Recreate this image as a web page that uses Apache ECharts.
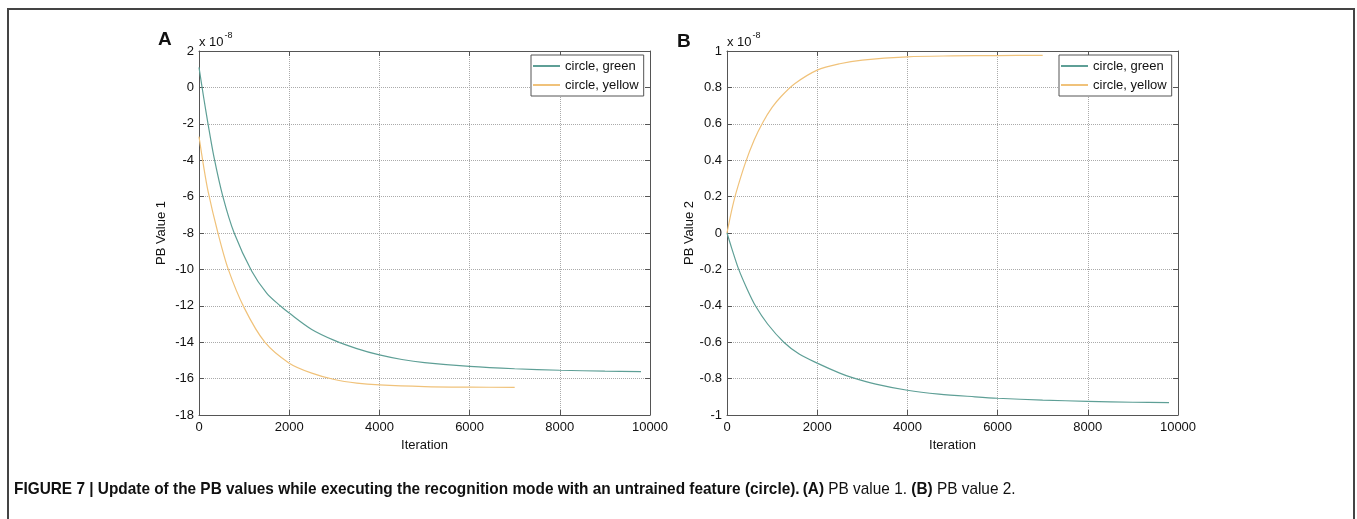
<!DOCTYPE html>
<html>
<head>
<meta charset="utf-8">
<script src="https://cdn.jsdelivr.net/npm/echarts@6/dist/echarts.min.js"></script>
<style>html,body{margin:0;padding:0;background:#fff}#c{width:1357px;height:519px}</style>
</head>
<body>
<div id="c"></div>
<script>
// ---- data (values in units of 1e-8) ----
const seriesNames = ['circle, green', 'circle, yellow'];
const xTicks = [0, 2000, 4000, 6000, 8000, 10000];

const iterA_green = [0,100,200,330,530,780,1170,1500,1800,2000,2500,3000,3500,4000,4500,5000,6000,7000,8000,9000,9800];
const valA_green  = [1.1,-0.5,-2.0,-3.8,-6.0,-8.0,-10.1,-11.3,-12.0,-12.4,-13.3,-13.9,-14.35,-14.7,-14.95,-15.12,-15.33,-15.46,-15.54,-15.59,-15.62];

const iterA_yellow = [0,100,200,420,650,1000,1460,2000,2500,3000,3500,4000,5000,6000,7000];
const valA_yellow  = [-2.7,-4.3,-5.7,-8.0,-10.0,-12.1,-14.0,-15.15,-15.7,-16.05,-16.25,-16.35,-16.44,-16.47,-16.48];

const iterB_green = [0,100,260,450,630,900,1260,1600,2000,2500,2780,3300,4000,4700,5500,6000,7000,8000,9000,9800];
const valB_green  = [0,-0.08,-0.2,-0.31,-0.4,-0.5,-0.6,-0.665,-0.715,-0.77,-0.795,-0.83,-0.864,-0.885,-0.9,-0.908,-0.918,-0.925,-0.93,-0.932];

const iterB_yellow = [0,100,200,400,600,800,1000,1200,1500,2000,2500,3000,4000,5000,6000,7000];
const valB_yellow  = [0,0.12,0.22,0.38,0.51,0.61,0.69,0.75,0.82,0.895,0.93,0.95,0.968,0.973,0.975,0.976];

const pairs = (xs, ys) => xs.map((x, i) => [x, ys[i]]);

const GREEN = '#5e9f96';
const YELLOW = '#f0c27a';
const FONT = 'Liberation Sans, Arial, Helvetica, sans-serif';
const AX = '#555';
const FS = 13;

function xAxisBottom(grid) {
  return {
    type: 'value', gridIndex: grid, position: 'bottom', min: xTicks[0], max: xTicks[xTicks.length - 1], interval: xTicks[1] - xTicks[0],
    name: 'Iteration', nameLocation: 'middle', nameGap: 23,
    nameTextStyle: { fontFamily: FONT, fontSize: FS, color: '#111' },
    axisLine: { show: true, onZero: false, lineStyle: { color: AX, width: 1 } },
    axisTick: { show: true, inside: true, length: 5, lineStyle: { color: AX } },
    axisLabel: { fontFamily: FONT, fontSize: FS, color: '#111', margin: 6, formatter: v => String(v) },
    splitLine: { show: true, lineStyle: { color: '#aaa', type: 'dotted', width: 1 } }
  };
}
function xAxisTop(grid) {
  return {
    type: 'value', gridIndex: grid, position: 'top', min: xTicks[0], max: xTicks[xTicks.length - 1], interval: xTicks[1] - xTicks[0],
    axisLine: { show: true, onZero: false, lineStyle: { color: AX, width: 1 } },
    axisTick: { show: true, inside: true, length: 5, lineStyle: { color: AX } },
    axisLabel: { show: false }, splitLine: { show: false }
  };
}
function yAxisLeft(grid, min, max, interval, name) {
  return {
    type: 'value', gridIndex: grid, position: 'left', min: min, max: max, interval: interval,
    name: name, nameLocation: 'middle', nameGap: 31,
    nameTextStyle: { fontFamily: FONT, fontSize: FS, color: '#111' },
    axisLine: { show: true, onZero: false, lineStyle: { color: AX, width: 1 } },
    axisTick: { show: true, inside: true, length: 5, lineStyle: { color: AX } },
    axisLabel: { fontFamily: FONT, fontSize: FS, color: '#111', margin: 5,
      formatter: v => String(Math.round(v * 10) / 10) },
    splitLine: { show: true, lineStyle: { color: '#aaa', type: 'dotted', width: 1 } }
  };
}
function yAxisRight(grid, min, max, interval) {
  return {
    type: 'value', gridIndex: grid, position: 'right', min: min, max: max, interval: interval,
    axisLine: { show: true, onZero: false, lineStyle: { color: AX, width: 1 } },
    axisTick: { show: true, inside: true, length: 5, lineStyle: { color: AX } },
    axisLabel: { show: false }, splitLine: { show: false }
  };
}
function legendAt(left) {
  return {
    orient: 'vertical', left: left, top: 55, data: seriesNames,
    backgroundColor: '#fff', borderColor: AX, borderWidth: 1,
    padding: [3, 5, 3, 2], itemGap: 3, itemWidth: 27, itemHeight: 2, icon: 'rect',
    textStyle: { fontFamily: FONT, fontSize: FS, color: '#111', lineHeight: 16 }, selectedMode: false
  };
}
function line(name, data, xi, yi, color) {
  return {
    type: 'line', name: name, data: data, xAxisIndex: xi, yAxisIndex: yi,
    smooth: 0.3, showSymbol: false, symbol: 'none', color: color,
    lineStyle: { color: color, width: 1.2 }, animation: false
  };
}
const expLabel = {
  a: { fontFamily: FONT, fontSize: FS, fill: '#111', verticalAlign: 'bottom', lineHeight: 18 },
  b: { fontFamily: FONT, fontSize: 9, fill: '#111', verticalAlign: 'top', padding: [0, 0, 8, 1], lineHeight: 18 }
};

const chart = echarts.init(document.getElementById('c'), null, { renderer: 'canvas' });
chart.setOption({
  backgroundColor: '#fff',
  animation: false,
  grid: [
    { left: 199, top: 51, width: 451, height: 364, show: false },
    { left: 727, top: 51, width: 451, height: 364, show: false }
  ],
  xAxis: [xAxisBottom(0), xAxisTop(0), xAxisBottom(1), xAxisTop(1)],
  yAxis: [
    yAxisLeft(0, -18, 2, 2, 'PB Value 1'), yAxisRight(0, -18, 2, 2),
    yAxisLeft(1, -1, 1, 0.2, 'PB Value 2'), yAxisRight(1, -1, 1, 0.2)
  ],
  legend: [legendAt(531), legendAt(1059)],
  series: [
    line(seriesNames[0], pairs(iterA_green, valA_green), 0, 0, GREEN),
    line(seriesNames[1], pairs(iterA_yellow, valA_yellow), 0, 0, YELLOW),
    line(seriesNames[0], pairs(iterB_green, valB_green), 2, 2, GREEN),
    line(seriesNames[1], pairs(iterB_yellow, valB_yellow), 2, 2, YELLOW)
  ],
  graphic: [
    { type: 'rect', shape: { x: 8, y: 9, width: 1346, height: 560 }, silent: true,
      style: { fill: 'none', stroke: '#444', lineWidth: 2 } },
    { type: 'text', left: 158, top: 30, silent: true,
      style: { text: 'A', font: 'bold 19px ' + FONT, fill: '#111' } },
    { type: 'text', left: 677, top: 32, silent: true,
      style: { text: 'B', font: 'bold 19px ' + FONT, fill: '#111' } },
    { type: 'text', left: 199, top: 31, silent: true,
      style: { text: '{a|x 10}{b|-8}', rich: expLabel } },
    { type: 'text', left: 727, top: 31, silent: true,
      style: { text: '{a|x 10}{b|-8}', rich: expLabel } },
    { type: 'text', x: 14, y: 481, scaleX: 0.905, silent: true,
      style: {
        text: '{b|FIGURE 7 | Update of the PB values while executing the recognition mode with an untrained feature (circle).} {b|(A)}{n| PB value 1. }{b|(B)}{n| PB value 2.}',
        rich: {
          b: { fontFamily: FONT, fontWeight: 'bold', fontSize: 17, fill: '#111' },
          n: { fontFamily: FONT, fontSize: 17, fill: '#111' }
        }
      } }
  ]
});
</script>
</body>
</html>
